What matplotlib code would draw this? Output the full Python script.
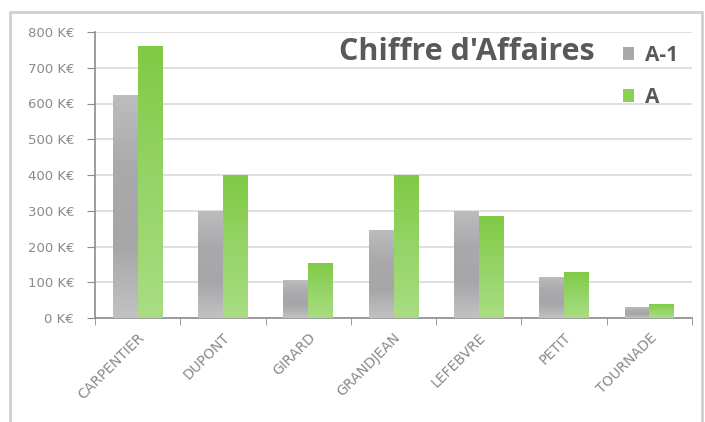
import numpy as np
import matplotlib.pyplot as plt
from matplotlib.patches import Rectangle
from matplotlib.colors import LinearSegmentedColormap

# data (K€)
vendeurs = ['CARPENTIER', 'DUPONT', 'GIRARD', 'GRANDJEAN', 'LEFEBVRE', 'PETIT', 'TOURNADE']
ca_prev = [625, 300, 105, 245, 300, 115, 30]   # A-1
ca_curr = [760, 400, 155, 400, 285, 130, 40]   # A
yticks = [0, 100, 200, 300, 400, 500, 600, 700, 800]

gray = '#a9a9a9'
green = '#8ccf55'
txt = '#8a8a8a'

# vertical gradients (bottom -> top) like the Excel bars
cm_gray = LinearSegmentedColormap.from_list('g', ['#c2c2c4', '#a6a6a8', '#aaaaac', '#bdbdbf'])
cm_green = LinearSegmentedColormap.from_list('v', ['#a9dd82', '#95d467', '#80ca44'])

fig = plt.figure(figsize=(7.05, 4.22), dpi=100)
fig.patch.set_facecolor('white')
# outer chart frame
fig.patches.append(Rectangle((10/705, -0.01), 692/705, 1 - 12/422 + 0.01,
                             transform=fig.transFigure, fill=False,
                             edgecolor='#cfcfcf', lw=2))

ax = fig.add_axes([95/705, 1 - 318/422, 597/705, 286/422])
x = np.arange(len(vendeurs))
w = 0.29
b1 = ax.bar(x - w/2, ca_prev, w, color=gray, label='A-1', zorder=3)
b2 = ax.bar(x + w/2, ca_curr, w, color=green, label='A', zorder=3)

grad = np.linspace(0, 1, 256).reshape(-1, 1)
for bars, cmap in [(b1, cm_gray), (b2, cm_green)]:
    for r in bars:
        x0, y0 = r.get_x(), r.get_y()
        im = ax.imshow(grad, cmap=cmap, origin='lower', aspect='auto',
                       extent=[x0, x0 + r.get_width(), y0, y0 + r.get_height()], zorder=3.5)
        im.set_clip_path(r)

ax.set_xlim(-0.5, len(vendeurs) - 0.5)
ax.set_ylim(0, 800)
ax.set_yticks(yticks)
ax.set_yticklabels(['{} K€'.format(v) for v in yticks])
ax.set_xticks(x)
ax.set_xticklabels(vendeurs, rotation=45, ha='right', rotation_mode='anchor')
ax.set_xticks(np.arange(-0.5, len(vendeurs)), minor=True)
ax.tick_params(axis='x', which='major', length=0, labelsize=10, labelcolor=txt, pad=9)
ax.tick_params(axis='x', which='minor', length=5, color='#8c8c8c', direction='out')
ax.tick_params(axis='y', length=6, color='#8c8c8c', labelsize=9.5, labelcolor=txt, pad=9)
ax.grid(axis='y', color='#d9d9d9', lw=1.2, zorder=0)
for s in ['top', 'right']:
    ax.spines[s].set_visible(False)
for s in ['left', 'bottom']:
    ax.spines[s].set_color('#8c8c8c')
    ax.spines[s].set_linewidth(1.2)

fig.text(339/705, 1 - 60/422, "Chiffre d'Affaires", fontsize=22, fontweight='bold',
         color='#595959', ha='left', va='baseline', family='Open Sans')

leg = ax.legend(loc='upper left', bbox_to_anchor=(509/597, 1.02), frameon=False,
                handlelength=0.55, handleheight=0.55, handletextpad=0.5,
                labelspacing=1.0, prop={'size': 15, 'weight': 'bold', 'family': 'Open Sans'})
for t in leg.get_texts():
    t.set_color('#595959')

fig.savefig('out.png', dpi=100, facecolor='white')
